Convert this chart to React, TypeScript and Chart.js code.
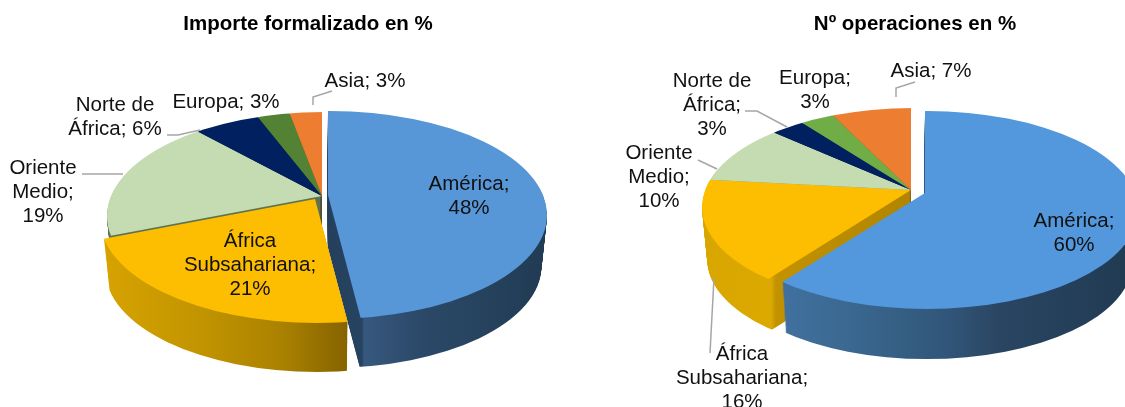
import React, { useEffect, useRef } from "react";
import { Chart, registerables } from "chart.js";

Chart.register(...registerables);

const regions = ["América", "África Subsahariana", "Oriente Medio", "Norte de África", "Europa", "Asia"];
const importeValues = [48, 21, 19, 6, 3, 3];
const operacionesValues = [60, 16, 10, 3, 3, 7];
const importeTitle = "Importe formalizado en %";
const operacionesTitle = "Nº operaciones en %";
const importeColors = ["#5797d8", "#fdbd00", "#c5dcb2", "#002060", "#548235", "#ed7d31"];
const operacionesColors = ["#5397dc", "#fdbd00", "#c5dcb2", "#002060", "#70ad47", "#ed7d31"];

type Layout = {
  title: string; titleX: number;
  apexX: number; apexY: number;       // where the slices meet
  rimX: number; rimY: number; rimRx: number; rimRy: number; // the visible rim ellipse
  rayTop: number; rayBottom: number;  // x/y stretch of the slice edges above and below the apex
  depth: number;
  explode: number[][];
  sides: [number, string][][];
  labels: { lines: string[]; x: number; y: number }[];
  leaders: number[][];
};

const FONT = '"Liberation Sans", Arial, sans-serif';
const SHRINK = 0.025;

const importeLayout: Layout = {
  title: importeTitle, titleX: 308,
  apexX: 322, apexY: 196, rimX: 324, rimY: 216, rimRx: 217, rimRy: 104,
  rayTop: 2.05, rayBottom: 2.1, depth: 52,
  explode: [[6, -1], [-7, 3], [0, 0], [0, 0], [0, 0], [0, 0]],
  sides: [
    [[328, "#24405c"], [362, "#26435f"], [364, "#37597f"], [420, "#2b4968"], [545, "#213b53"]],
    [[103, "#d6a300"], [200, "#c29400"], [280, "#ab8200"], [348, "#856300"]],
    [[100, "#5f7350"], [330, "#5f7350"]],
    [[200, "#001238"], [330, "#001238"]],
    [[200, "#35521f"], [330, "#35521f"]],
    [[200, "#94501e"], [330, "#94501e"]],
  ],
  labels: [
    { lines: ["Asia; 3%"], x: 365, y: 81 },
    { lines: ["Europa; 3%"], x: 226, y: 102 },
    { lines: ["Norte de", "África; 6%"], x: 115, y: 105 },
    { lines: ["Oriente", "Medio;", "19%"], x: 43, y: 168 },
    { lines: ["América;", "48%"], x: 469, y: 184 },
    { lines: ["África", "Subsahariana;", "21%"], x: 250, y: 241 },
  ],
  leaders: [
    [313, 105, 313, 97, 332, 91],
    [167, 135, 178, 135, 200, 130],
    [82, 174, 123, 174],
  ],
};

const operacionesLayout: Layout = {
  title: operacionesTitle, titleX: 915,
  apexX: 911, apexY: 190, rimX: 913, rimY: 207, rimRx: 211, rimRy: 99,
  rayTop: 2.2, rayBottom: 2.04, depth: 53,
  explode: [[14, 3], [0, 0], [0, 0], [0, 0], [0, 0], [0, 0]],
  sides: [
    [[787, "#40709e"], [850, "#3a6890"], [950, "#315578"], [1000, "#2a4562"], [1125, "#213b53"]],
    [[702, "#d9a600"], [771, "#dba900"], [776, "#c29200"], [911, "#b08500"]],
    [[700, "#7a8f68"], [911, "#7a8f68"]],
    [[700, "#001238"], [911, "#001238"]],
    [[700, "#456c2c"], [911, "#456c2c"]],
    [[700, "#94501e"], [911, "#94501e"]],
  ],
  labels: [
    { lines: ["Asia; 7%"], x: 931, y: 71 },
    { lines: ["Europa;", "3%"], x: 815, y: 78 },
    { lines: ["Norte de", "África;", "3%"], x: 712, y: 81 },
    { lines: ["Oriente", "Medio;", "10%"], x: 659, y: 153 },
    { lines: ["América;", "60%"], x: 1074, y: 221 },
    { lines: ["África", "Subsahariana;", "16%"], x: 742, y: 354 },
  ],
  leaders: [
    [896, 97, 896, 88, 915, 82],
    [745, 111, 757, 111, 787, 127],
    [698, 160, 717, 169],
    [714, 278, 710, 353],
  ],
};

function pie3d(l: Layout) {
  return {
    id: "pie3d",
    beforeDatasetsDraw(chart: any) {
      const ctx = chart.ctx as CanvasRenderingContext2D;
      const arcs = chart.getDatasetMeta(0).data as any[];
      const W = chart.width, H = chart.height;
      const BIG = 420; // slices are drawn past the rim, the rim ellipse trims them
      const paint = (dy: number, side: boolean) => {
        const s = 1 - (SHRINK * dy) / l.depth;
        const y0 = l.apexY + dy;
        [[0, y0, l.rayTop], [y0, H - y0, l.rayBottom]].forEach(([top, h, ray]) => {
          ctx.save();
          ctx.beginPath();
          ctx.rect(0, top, W, h);
          ctx.clip();
          arcs.forEach((el, i) => {
            const R = el.outerRadius;
            const sx = BIG / R, sy = BIG / ray / R;
            const [ex, ey] = l.explode[i];
            const ax = l.apexX + ex * s, ay = y0 + ey;
            ctx.save();
            ctx.beginPath();
            ctx.ellipse(
              l.apexX + (l.rimX - l.apexX + ex) * s,
              y0 + (l.rimY - l.apexY) * s + ey,
              l.rimRx * s, l.rimRy * s, 0, 0, Math.PI * 2);
            ctx.clip();
            ctx.translate(ax, ay);
            ctx.scale(sx, sy);
            ctx.translate(-el.x, -el.y);
            if (side) {
              const toEl = (px: number) => el.x + (px - ax) / sx;
              const stops = l.sides[i];
              const a = stops[0][0], b = stops[stops.length - 1][0];
              const g = ctx.createLinearGradient(toEl(a), 0, toEl(b), 0);
              stops.forEach(([p, c]) => g.addColorStop((p - a) / (b - a), c));
              const shell = Object.create(el);
              shell.options = {
                backgroundColor: g, borderColor: "transparent", borderWidth: 0,
                offset: 0, spacing: 0, borderRadius: 0, circular: true,
                borderAlign: "center", borderJoinStyle: "round", borderDash: [], borderDashOffset: 0,
              };
              el.draw.call(shell, ctx);
            } else {
              el.draw(ctx);
            }
            ctx.restore();
          });
          ctx.restore();
        });
      };
      for (let dy = l.depth; dy >= 1; dy--) paint(dy, true);
      paint(0, false);
      return false;
    },
    afterDraw(chart: any) {
      const ctx = chart.ctx as CanvasRenderingContext2D;
      ctx.save();
      ctx.strokeStyle = "#a6a6a6";
      ctx.lineWidth = 1.5;
      l.leaders.forEach((p) => {
        ctx.beginPath();
        ctx.moveTo(p[0], p[1]);
        for (let i = 2; i < p.length; i += 2) ctx.lineTo(p[i], p[i + 1]);
        ctx.stroke();
      });
      ctx.textAlign = "center";
      ctx.textBaseline = "middle";
      ctx.fillStyle = "#111111";
      ctx.font = `20.5px ${FONT}`;
      l.labels.forEach((t) => t.lines.forEach((s, i) => ctx.fillText(s, t.x, t.y + i * 24.2)));
      ctx.font = `bold 20.5px ${FONT}`;
      ctx.fillStyle = "#000000";
      ctx.fillText(l.title, l.titleX, 24);
      ctx.restore();
    },
  };
}

function PieCanvas({ values, colors, layout }: { values: number[]; colors: string[]; layout: Layout }) {
  const ref = useRef<HTMLCanvasElement>(null);
  useEffect(() => {
    const chart = new Chart(ref.current as HTMLCanvasElement, {
      type: "pie",
      data: {
        labels: regions,
        datasets: [{ data: values, backgroundColor: colors, borderWidth: 0, radius: 180 } as any],
      },
      options: {
        animation: false,
        responsive: false,
        plugins: { legend: { display: false }, tooltip: { enabled: false } },
      },
      plugins: [pie3d(layout)],
    } as any);
    return () => chart.destroy();
  }, []);
  return (
    <canvas
      ref={ref}
      width={1125}
      height={407}
      style={{ position: "absolute", left: 0, top: 0, width: 1125, height: 407 }}
    />
  );
}

export default function App() {
  return (
    <div style={{ position: "fixed", left: 0, top: 0, width: 1125, height: 407, background: "#fff", overflow: "hidden" }}>
      <PieCanvas values={importeValues} colors={importeColors} layout={importeLayout} />
      <PieCanvas values={operacionesValues} colors={operacionesColors} layout={operacionesLayout} />
    </div>
  );
}
